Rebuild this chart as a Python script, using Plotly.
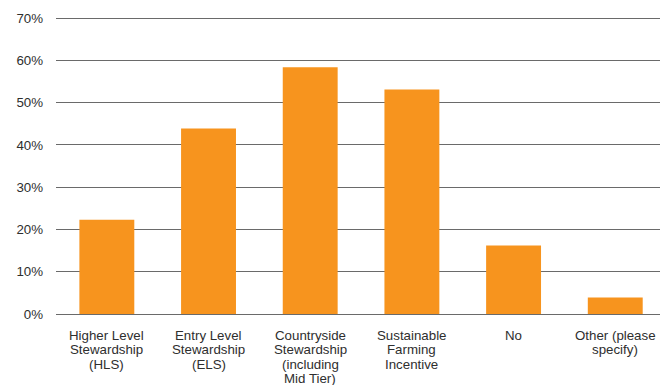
import plotly.graph_objects as go

categories = [
    "Higher Level<br>Stewardship<br>(HLS)",
    "Entry Level<br>Stewardship<br>(ELS)",
    "Countryside<br>Stewardship<br>(including<br>Mid Tier)",
    "Sustainable<br>Farming<br>Incentive",
    "No",
    "Other (please<br>specify)",
]
values = [22.3, 43.9, 58.4, 53.1, 16.2, 3.9]
y_ticks = [0, 10, 20, 30, 40, 50, 60, 70]
y_tick_labels = [f"{v}%" for v in y_ticks]

fig = go.Figure(
    go.Bar(
        x=categories,
        y=values,
        marker=dict(color="#F7941E", line=dict(width=0)),
        hoverinfo="skip",
    )
)

font = dict(family="Liberation Sans, Arial, Helvetica, sans-serif", size=13.3, color="#2e2e2e")

# category labels as tightly spaced lines beneath each bar
line_gap = 14.4
for cat in categories:
    for i, line in enumerate(cat.split("<br>")):
        fig.add_annotation(
            x=cat, y=0, xref="x", yref="y",
            text=line, showarrow=False,
            xanchor="center", yanchor="middle",
            yshift=-(21.5 + i * line_gap),
            font=font,
        )

fig.update_layout(
    width=660,
    height=385,
    margin=dict(l=56, r=0, t=16, b=71),
    paper_bgcolor="white",
    plot_bgcolor="white",
    bargap=0.46,
    showlegend=False,
    font=font,
    xaxis=dict(
        type="category",
        range=[-0.5, 5.44],
        showgrid=False,
        showline=False,
        ticks="",
        showticklabels=False,
        automargin=False,
    ),
    yaxis=dict(
        range=[0, 70.5],
        tickvals=y_ticks,
        ticktext=y_tick_labels,
        showgrid=True,
        gridcolor="#6a6a6a",
        gridwidth=1.3,
        zeroline=True,
        zerolinecolor="#6a6a6a",
        zerolinewidth=1.3,
        showline=False,
        ticks="",
        tickfont=font,
        ticklabelstandoff=12,
        automargin=False,
    ),
)

fig.write_html(
    "out.html",
    config={"displayModeBar": False},
    post_script="document.body.style.margin='0';document.body.style.overflow='hidden';",
)
